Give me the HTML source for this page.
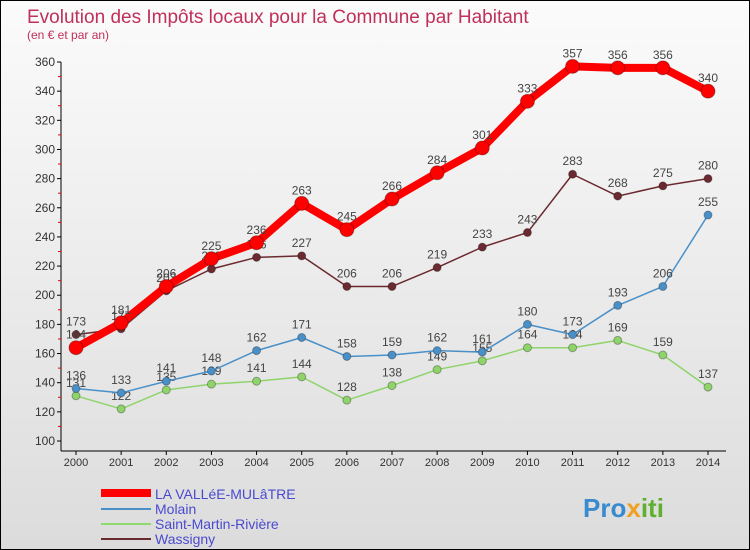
<!DOCTYPE html>
<html><head><meta charset="utf-8"><style>
body{margin:0}
#c{width:748px;height:548px;border:1px solid #000;background:linear-gradient(#fbfbfb,#dcdcdc);position:relative;font-family:"Liberation Sans",sans-serif;overflow:hidden}
text{font-family:"Liberation Sans",sans-serif}
</style></head><body>
<div id="c">
<svg id="s" width="748" height="548">
<text x="26" y="22" font-size="19" fill="#c0305a">Evolution des Impôts locaux pour la Commune par Habitant</text>
<text x="26" y="38" font-size="12" fill="#c0305a">(en € et par an)</text>
<g id="axes"></g><g id="series"></g>
<g>
<line x1="100" y1="492" x2="150" y2="492" stroke="#f00" stroke-width="8"/>
<text x="154" y="498" font-size="14" fill="#4a4ad0">LA VALLéE-MULâTRE</text>
<line x1="100" y1="508" x2="150" y2="508" stroke="#4a90c8" stroke-width="2"/>
<text x="154" y="513" font-size="14" fill="#4a4ad0">Molain</text>
<line x1="100" y1="523" x2="150" y2="523" stroke="#90d870" stroke-width="2"/>
<text x="154" y="528" font-size="14" fill="#4a4ad0">Saint-Martin-Rivière</text>
<line x1="100" y1="538" x2="150" y2="538" stroke="#6b2a30" stroke-width="2"/>
<text x="154" y="543" font-size="14" fill="#4a4ad0">Wassigny</text>
</g>
<text x="582" y="516" font-size="26" font-weight="bold" fill="#3a8ad0">Pro<tspan fill="#f0a020">x</tspan><tspan fill="#60b030">iti</tspan></text>
</svg>
</div>
<script>
const years=[2000,2001,2002,2003,2004,2005,2006,2007,2008,2009,2010,2011,2012,2013,2014];
const yTicks=[100,120,140,160,180,200,220,240,260,280,300,320,340,360];
const vallee=[164,181,206,225,236,263,245,266,284,301,333,357,356,356,340];
const molain=[136,133,141,148,162,171,158,159,162,161,180,173,193,206,255];
const stMartin=[131,122,135,139,141,144,128,138,149,155,164,164,169,159,137];
const wassigny=[173,177,203,218,226,227,206,206,219,233,243,283,268,275,280];
const NS='http://www.w3.org/2000/svg';
const X=i=>75+i*(707-75)/14;
const Y=v=>440-(v-100)*(440-61)/260;
function mk(t,a,p){const e=document.createElementNS(NS,t);for(const k in a)e.setAttribute(k,a[k]);p.appendChild(e);return e;}
const ax=document.getElementById('axes');
const yl=mk('line',{x1:60,y1:61,x2:60,y2:450,stroke:'#000'},ax);


const xl=mk('line',{x1:60,y1:450,x2:725,y2:450,stroke:'#000'},ax);


yTicks.forEach(v=>{
 mk('line',{x1:56,y1:Y(v),x2:60,y2:Y(v),stroke:'#000'},ax);
 if(v<360)mk('line',{x1:57,y1:Y(v+10),x2:60,y2:Y(v+10),stroke:'#e00'},ax);
 const t=mk('text',{x:54,y:Y(v)+4,'font-size':12,'text-anchor':'end',fill:'#333'},ax);t.textContent=v;
 
 
});
years.forEach((y,i)=>{
 mk('line',{x1:X(i),y1:450,x2:X(i),y2:454,stroke:'#000'},ax);
 const t=mk('text',{x:X(i),y:465,'font-size':11,'text-anchor':'middle',fill:'#333'},ax);t.textContent=y;
 
 
});
const sg=document.getElementById('series');
function series(vals,color,w,r,name){
 const g=mk('g',{},sg);
 
 
 mk('polyline',{points:vals.map((v,i)=>X(i)+','+Y(v)).join(' '),fill:'none',stroke:color,'stroke-width':w,'stroke-linejoin':'round'},g);
 vals.forEach((v,i)=>{
  const c=mk('circle',{cx:X(i),cy:Y(v),r:r,fill:color,stroke:'rgba(0,0,0,0.3)'},g);
  
  
  const t=mk('text',{x:X(i),y:Y(v)-9,'font-size':12,'text-anchor':'middle',fill:'#444'},g);t.textContent=v;
  
  
 });
}
series(stMartin,'#8fd46a',1.5,4,'saint-martin-series');
series(molain,'#4a90c8',1.5,4,'molain-series');
series(wassigny,'#6b2a30',1.5,4,'wassigny-series');
series(vallee,'#f00',8,7,'la-vallee-series');
</script>
</body></html>
